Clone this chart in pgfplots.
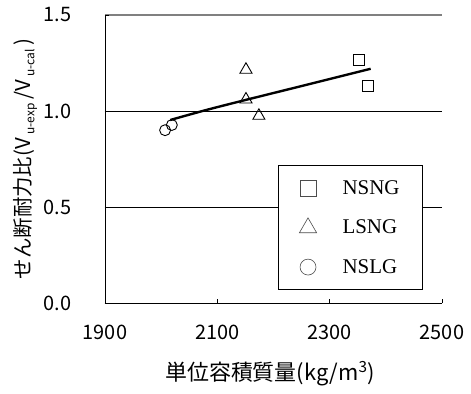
\documentclass[border=0pt]{standalone}
\usepackage{pgfplots}
\pgfplotsset{compat=1.18}
\usepackage{fontspec}
\setmainfont{Liberation Serif}
\newfontfamily\jp{Noto Sans CJK JP}
\begin{document}
\begin{tikzpicture}
\path[use as bounding box] (-105bp,-91bp) rectangle (366bp,303bp);
\begin{axis}[
  scale only axis, width=337bp, height=288bp,
  xmin=1900, xmax=2500, ymin=0, ymax=1.5,
  axis x line=bottom, axis y line=left,
  axis line style={-, line width=0.8pt},
  xtick={1900,2100,2300,2500}, ytick={0,0.5,1.0},
  extra y ticks={1.5}, extra y tick style={grid style={gray, line width=1.2pt}},
  ymajorgrids, grid style={black, line width=0.6pt},
  tick align=inside, major tick length=4pt,
  tick style={black, line width=0.6pt},
  /pgf/number format/assume math mode=true,
  xticklabel style={font=\jp\fontsize{20}{20}\selectfont, yshift=-19pt},
  yticklabel style={font=\jp\fontsize{20}{20}\selectfont, xshift=-30pt},
  x tick label style={/pgf/number format/1000 sep={}},
  y tick label style={/pgf/number format/.cd, fixed, fixed zerofill, precision=1},
  xlabel={\jp\fontsize{22}{22}\selectfont 単位容積質量(kg/m\textsuperscript{3})},
  xlabel style={at={(axis description cs:0.49,-0.245)}, anchor=center},
  ylabel={\jp\fontsize{20.5}{20.5}\selectfont せん断耐力比(V\,\raisebox{-0.35ex}{\fontsize{12}{12}\selectfont u-exp}\,/V\,\raisebox{-0.35ex}{\fontsize{12}{12}\selectfont u-cal}\,)},
  ylabel style={at={(axis description cs:-0.237,0.5)}, anchor=center},
  legend style={at={(0.513,0.479)}, anchor=north west, draw=black, line width=1.2pt,
    font=\fontsize{21}{21}\selectfont, row sep=20pt, inner xsep=21pt, inner ysep=13pt,
    legend cell align=left},
  clip=false,
]
\addplot[black, line width=2.4pt, smooth, forget plot] coordinates {(2016,0.953) (2080,1.005) (2151,1.058) (2250,1.13) (2373,1.22)};
\addplot[only marks, mark=square, mark size=5.5pt, black, line width=0.9pt, forget plot] coordinates {(2352,1.266) (2369,1.13)};
\addplot[only marks, mark=triangle, mark size=7pt, black, line width=0.9pt, forget plot] coordinates {(2151,1.215) (2151,1.06) (2174,0.975)};
\addplot[only marks, mark=o, mark size=5.5pt, black, line width=0.9pt, forget plot] coordinates {(2007,0.90) (2019,0.927)};
\addlegendimage{only marks, mark=square, mark size=8pt, gray!60!black, line width=0.6pt}
\addlegendentry{\hspace{24pt}NSNG}
\addlegendimage{only marks, mark=triangle, mark size=10pt, gray!60!black, line width=0.6pt}
\addlegendentry{\hspace{24pt}LSNG}
\addlegendimage{only marks, mark=o, mark size=8pt, gray!60!black, line width=0.6pt}
\addlegendentry{\hspace{24pt}NSLG}
\end{axis}
\end{tikzpicture}
\end{document}
